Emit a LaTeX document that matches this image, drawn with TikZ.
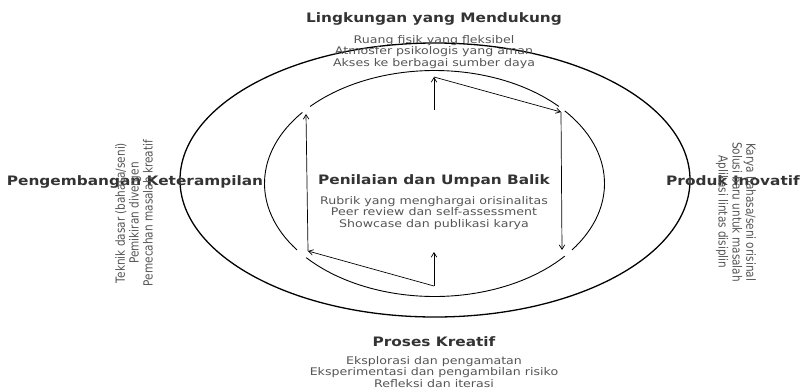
\documentclass[tikz,border=0pt]{standalone}
\usepackage{fontspec}
\setmainfont{DejaVu Sans}
\usetikzlibrary{arrows.meta}
\definecolor{titlegray}{HTML}{333333}
\definecolor{bodygray}{HTML}{555555}
\begin{document}
\begin{tikzpicture}[x=1pt,y=-1pt,
  title/.style={font=\fontsize{13}{15}\selectfont\bfseries, text=titlegray, inner sep=0pt, xscale=1.18},
  body/.style={font=\fontsize{10.5}{11.5}\selectfont, text=bodygray, align=center, inner sep=0pt},
  hbody/.style={body, xscale=1.2},
  vbody/.style={body, yscale=1.2},
  flow/.style={-{Straight Barb[length=4.5pt,width=5.5pt]}, line width=0.7pt},
  ring/.style={line width=0.9pt},
]
\useasboundingbox (0,0) rectangle (802,391);

% outer ellipse
\draw[line width=1.3pt] (435,180) ellipse [x radius=255pt, y radius=137pt];

% inner ring made of four arcs, with gaps at the arrow corners
\coordinate (ic) at (434.5,183.5);
\draw[ring] ([shift={(43:170pt and 113pt)}]ic) arc[start angle=43, end angle=137, x radius=170pt, y radius=113pt];
\draw[ring] ([shift={(141:170pt and 113pt)}]ic) arc[start angle=141, end angle=216, x radius=170pt, y radius=113pt];
\draw[ring] ([shift={(221:170pt and 113pt)}]ic) arc[start angle=221, end angle=320, x radius=170pt, y radius=113pt];
\draw[ring] ([shift={(324:170pt and 113pt)}]ic) arc[start angle=324, end angle=400, x radius=170pt, y radius=113pt];

% arrow anchor points
\coordinate (tt) at (434,110);
\coordinate (pt) at (434,77);
\coordinate (ptr) at (561,112);
\coordinate (pbr) at (562,250);
\coordinate (bt) at (434,252);
\coordinate (pb) at (434,286);
\coordinate (pbl) at (308,251);
\coordinate (ptl) at (306,114);

\draw[flow] (tt) -- (pt);
\draw[flow] (pt) -- (ptr);
\draw[flow] (ptr) -- (pbr);
\draw[flow] (pb) -- (bt);
\draw[flow] (pb) -- (pbl);
\draw[flow] (pbl) -- (ptl);

% labels
\node[title] (envt) at (434,19) {Lingkungan yang Mendukung};
\node[hbody] (envb) at (434,52) {Ruang fisik yang fleksibel\\Atmosfer psikologis yang aman\\Akses ke berbagai sumber daya};

\node[title] (evalt) at (434,181) {Penilaian dan Umpan Balik};
\node[hbody] (evalb) at (434,213) {Rubrik yang menghargai orisinalitas\\Peer review dan self-assessment\\Showcase dan publikasi karya};

\node[title] (proct) at (434,342) {Proses Kreatif};
\node[hbody] (procb) at (434,372) {Eksplorasi dan pengamatan\\Eksperimentasi dan pengambilan risiko\\Refleksi dan iterasi};

\node[title] (skillt) at (135,182) {Pengembangan Keterampilan};
\node[rotate=90, vbody] (skillb) at (134,213) {Teknik dasar (bahasa/seni)\\Pemikiran divergen\\Pemecahan masalah kreatif};

\node[title] (prodt) at (733,181) {Produk Inovatif};
\node[rotate=-90, vbody] (prodb) at (736,212) {Karya bahasa/seni orisinal\\Solusi baru untuk masalah\\Aplikasi lintas disiplin};
\end{tikzpicture}
\end{document}
